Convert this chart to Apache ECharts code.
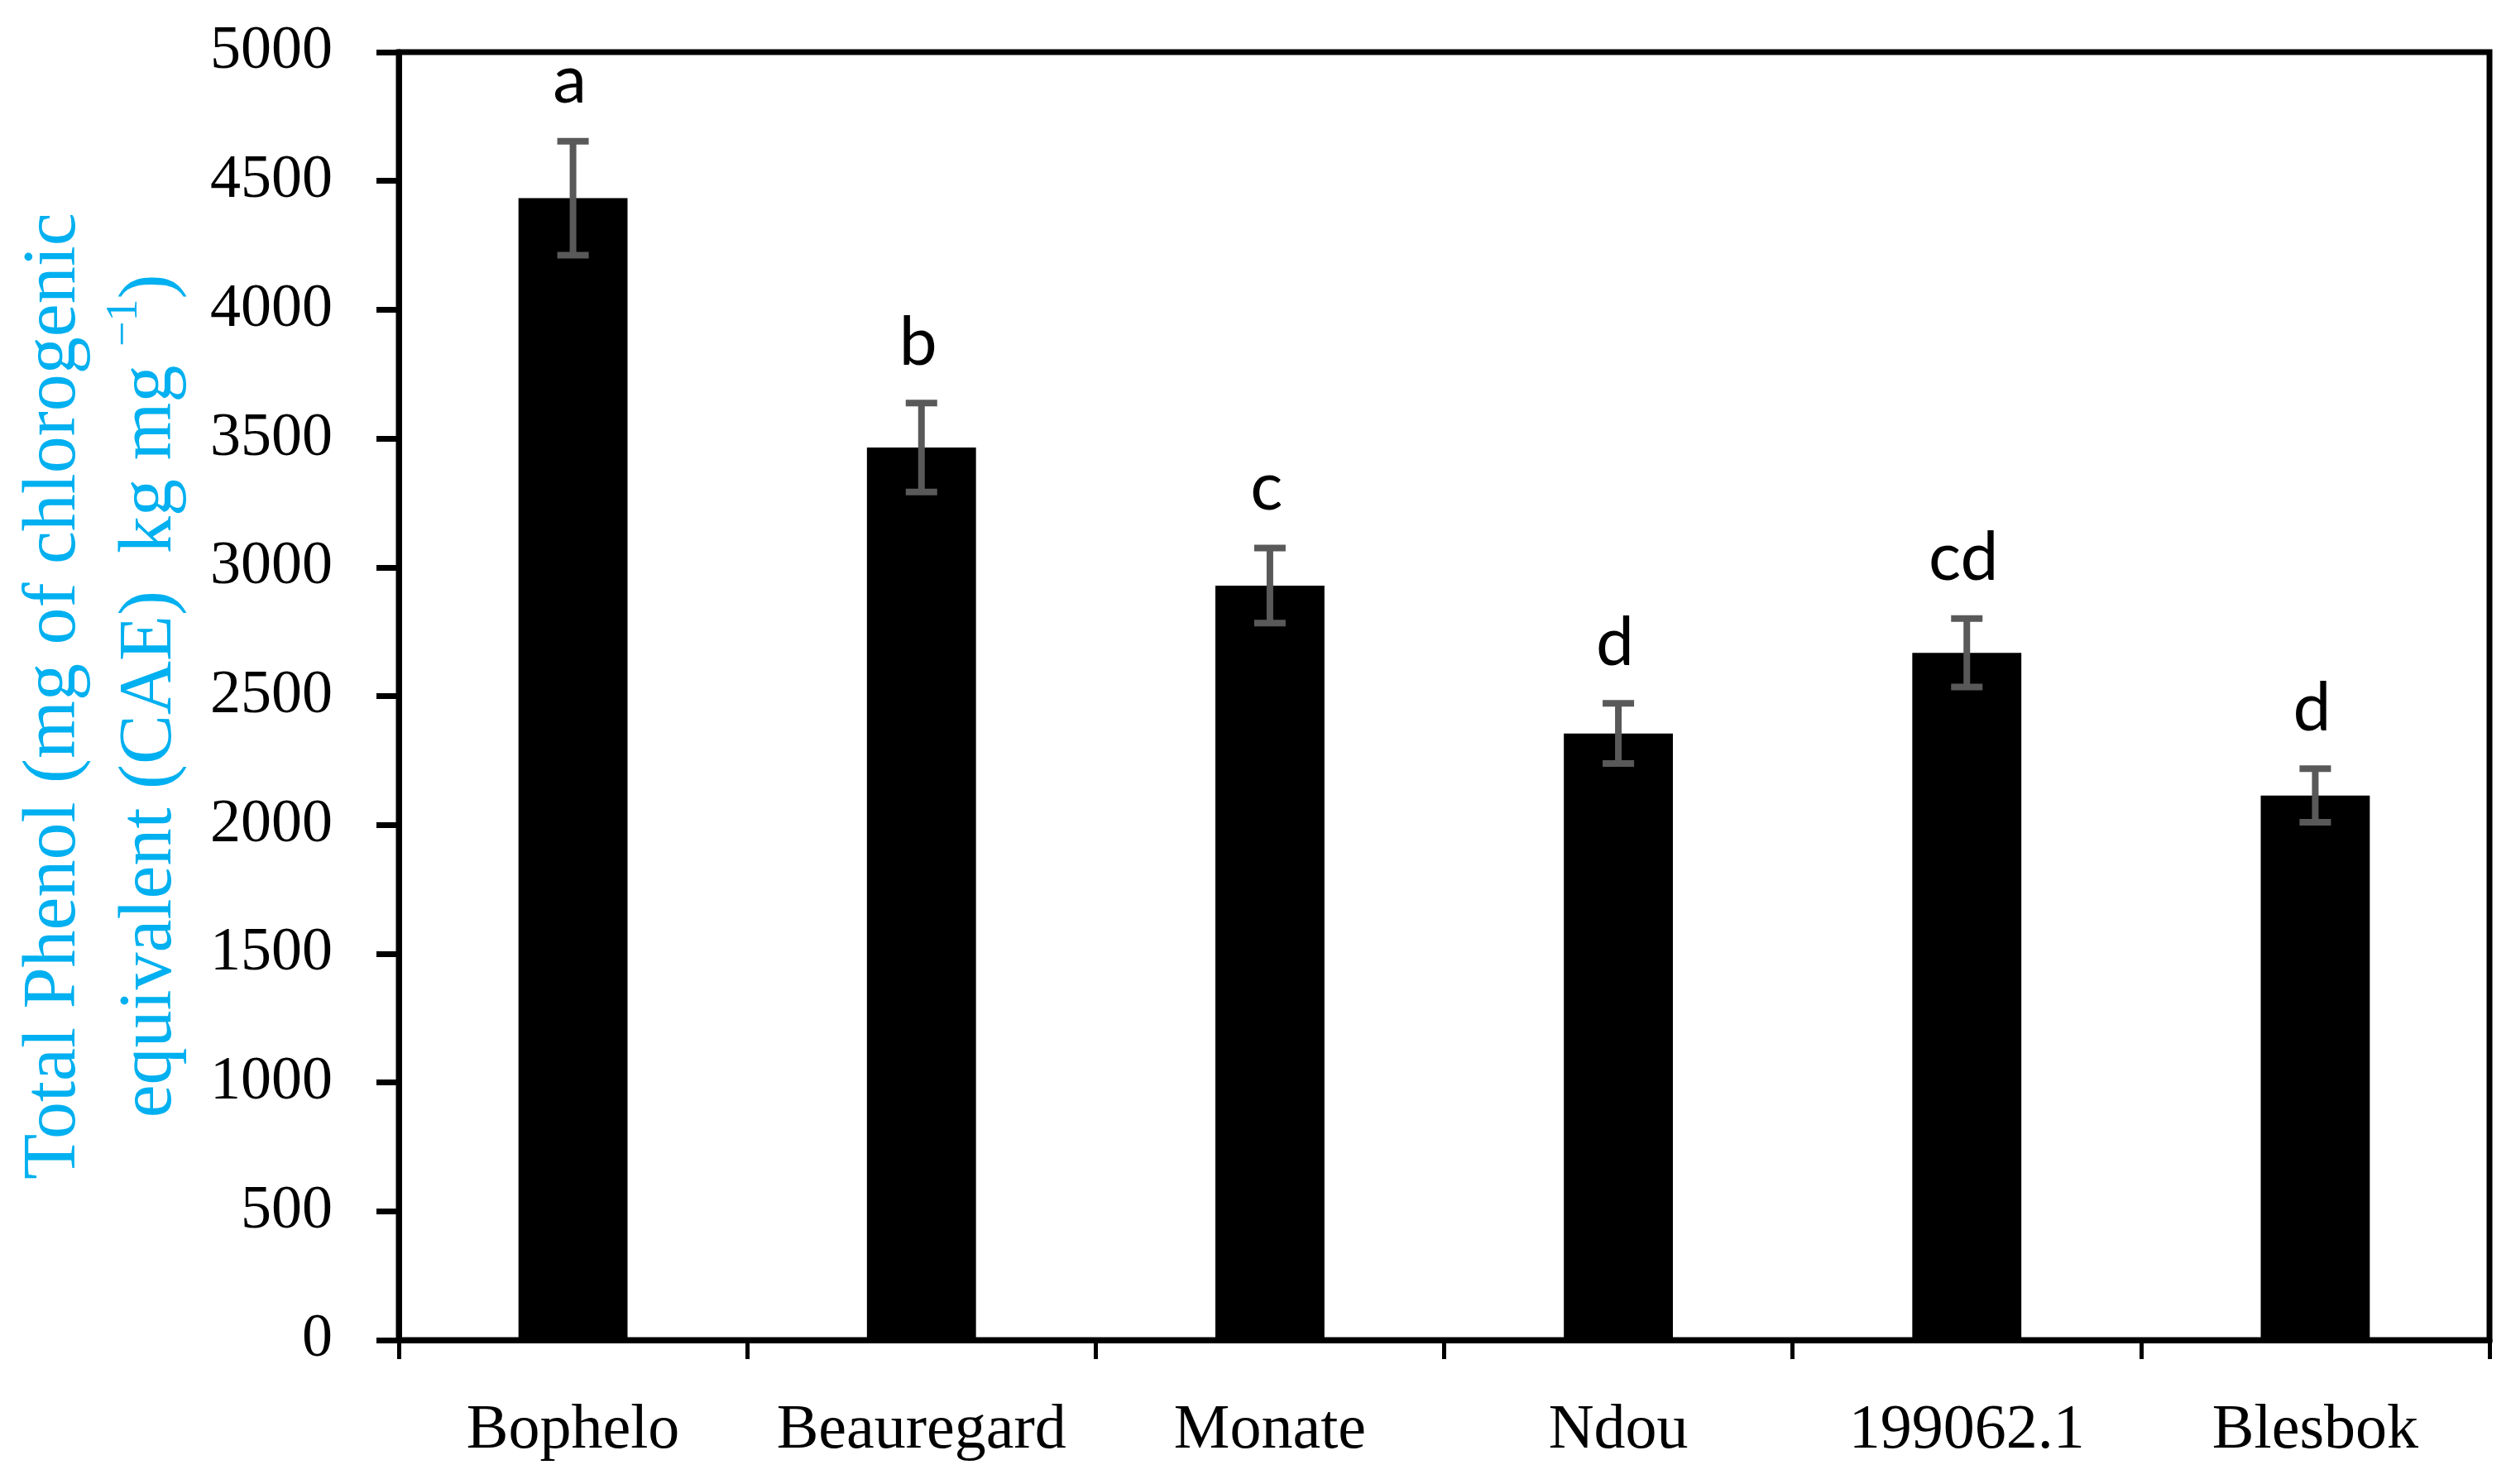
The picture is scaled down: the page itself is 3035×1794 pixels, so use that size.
<!DOCTYPE html>
<html>
<head>
<meta charset="utf-8">
<script src="https://cdn.jsdelivr.net/npm/echarts@6/dist/echarts.min.js"></script>
<style>
html,body{margin:0;padding:0;background:#fff;}
#chart{width:3035px;height:1794px;}
</style>
</head>
<body>
<div id="chart"></div>
<script>
const categories = ['Bophelo', 'Beauregard', 'Monate', 'Ndou', '199062.1', 'Blesbok'];
const means = [4433, 3465, 2929, 2355, 2668, 2114];
const errors = [221, 173, 146, 117, 133, 104];
const letters = ['a', 'b', 'c', 'd', 'cd', 'd'];
const yMin = 0, yMax = 5000, yStep = 500;

const chart = echarts.init(document.getElementById('chart'), null, {renderer: 'canvas'});

const errData = categories.map((c, i) => [i, means[i], errors[i]]);

const option = {
  backgroundColor: '#ffffff',
  animation: false,
  grid: {
    left: 482, right: 26, top: 63, bottom: 174,
    show: true, borderColor: '#000', borderWidth: 7, backgroundColor: 'transparent'
  },
  xAxis: {
    type: 'category',
    data: categories,
    boundaryGap: true,
    z: 10,
    axisLine: {show: true, lineStyle: {color: '#000', width: 7}},
    axisTick: {show: true, interval: 0, alignWithLabel: false, length: 23, lineStyle: {color: '#000', width: 5}},
    axisLabel: {interval: 0, fontFamily: 'Liberation Serif', fontSize: 76, color: '#000', margin: 72},
    splitLine: {show: false}
  },
  yAxis: {
    type: 'value',
    min: yMin, max: yMax, interval: yStep,
    z: 10,
    axisLine: {show: true, lineStyle: {color: '#000', width: 7}},
    axisTick: {show: true, length: 27, lineStyle: {color: '#000', width: 7}},
    axisLabel: {fontFamily: 'Liberation Serif', fontSize: 74, color: '#000', margin: 80,
      formatter: function (v) { return String(v); }},
    splitLine: {show: false},
    name: '{n|Total Phenol (mg of chlorogenic}\n{n|equivalent (CAE)  kg mg }{sup|−1}{n|)}',
    nameLocation: 'middle',
    nameRotate: 90,
    nameGap: 242,
    nameTextStyle: {
      color: '#00B0F0',
      fontFamily: 'Liberation Serif',
      fontSize: 90,
      lineHeight: 116,
      rich: {
        n: {fontFamily: 'Liberation Serif', fontSize: 90, color: '#00B0F0', lineHeight: 116},
        sup: {fontFamily: 'Liberation Serif', fontSize: 54, color: '#00B0F0', lineHeight: 116, verticalAlign: 'top', padding: [0, 0, 40, 0]}
      }
    }
  },
  series: [
    {
      type: 'bar',
      data: means,
      barWidth: '31.3%',
      itemStyle: {color: '#000'},
      z: 2
    },
    {
      type: 'custom',
      z: 5,
      data: errData,
      renderItem: function (params, api) {
        const i = api.value(0), m = api.value(1), e = api.value(2);
        const letter = letters[params.dataIndex];
        const top = api.coord([i, m + e]);
        const bot = api.coord([i, m - e]);
        const cx = top[0];
        const half = 19;
        const col = '#595959';
        return {
          type: 'group',
          children: [
            {type: 'line', shape: {x1: cx, y1: top[1], x2: cx, y2: bot[1]}, style: {stroke: col, lineWidth: 8}},
            {type: 'line', shape: {x1: cx - half, y1: top[1], x2: cx + half, y2: top[1]}, style: {stroke: col, lineWidth: 8}},
            {type: 'line', shape: {x1: cx - half, y1: bot[1], x2: cx + half, y2: bot[1]}, style: {stroke: col, lineWidth: 8}},
            {type: 'text', style: {text: letter, x: cx - 4, y: top[1] - 32, align: 'center', verticalAlign: 'bottom',
              fontFamily: 'Lato', fontSize: 82, fill: '#000'}}
          ]
        };
      }
    }
  ]
};
chart.setOption(option);
</script>
</body>
</html>
